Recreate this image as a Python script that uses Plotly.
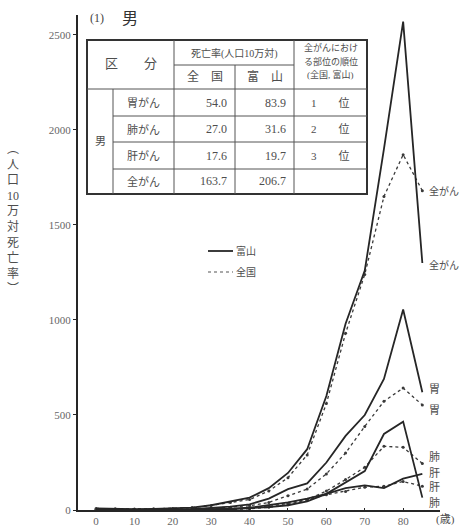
import plotly.graph_objects as go

# ---------------- data ----------------
ages = [0, 5, 10, 15, 20, 25, 30, 35, 40, 45, 50, 55, 60, 65, 70, 75, 80, 85]
total_toyama = [8, 5, 5, 6, 8, 12, 25, 45, 65, 115, 195, 320, 600, 980, 1260, 1900, 2570, 1300]
total_national = [8, 6, 5, 6, 8, 13, 24, 40, 55, 100, 170, 290, 560, 930, 1240, 1650, 1870, 1680]
stomach_toyama = [0, 0, 0, 1, 2, 4, 10, 18, 30, 60, 110, 140, 250, 390, 500, 690, 1055, 620]
stomach_national = [0, 0, 0, 1, 2, 4, 9, 15, 22, 40, 75, 110, 190, 300, 440, 572, 642, 553]
lung_toyama = [0, 0, 0, 0, 1, 1, 2, 4, 8, 15, 25, 45, 85, 145, 205, 400, 465, 65]
lung_national = [0, 0, 0, 0, 1, 1, 2, 3, 6, 14, 28, 55, 100, 160, 225, 335, 330, 245]
liver_toyama = [1, 0, 0, 0, 1, 2, 4, 7, 12, 25, 40, 60, 85, 115, 130, 115, 165, 190]
liver_national = [1, 0, 0, 0, 1, 2, 3, 6, 10, 20, 35, 55, 80, 98, 120, 125, 150, 125]

x_ticks = [0, 10, 20, 30, 40, 50, 60, 70, 80]
y_ticks = [0, 500, 1000, 1500, 2000, 2500]

table_sites = ["胃がん", "肺がん", "肝がん", "全がん"]
table_national = [54.0, 27.0, 17.6, 163.7]
table_toyama = [83.9, 31.6, 19.7, 206.7]
table_rank = ["1　　位", "2　　位", "3　　位", ""]

end_labels_toyama = ["全がん", "胃", "肺", "肝"]
end_labels_national = ["全がん", "胃", "肺", "肝"]

# ---------------- style ----------------
W, H = 459, 526
ML, MR, MT, MB = 78, 19, 15, 16
LINE = "#262626"
TXT = "#4d4d4d"
FONT = "Liberation Serif, DejaVu Serif, Noto Sans CJK JP, serif"


def px(x):
    return (x - ML) / (W - ML - MR)


def py(y):
    return (H - MB - y) / (H - MT - MB)


fig = go.Figure()

toyama_series = [total_toyama, stomach_toyama, lung_toyama, liver_toyama]
national_series = [total_national, stomach_national, lung_national, liver_national]

for s in national_series:
    fig.add_trace(go.Scatter(
        x=ages, y=s, mode="lines+markers",
        line=dict(color="#3a3a3a", width=1.3, dash="dot"),
        marker=dict(size=3, color="#3a3a3a"),
        showlegend=False, hoverinfo="skip"))

for s in toyama_series:
    fig.add_trace(go.Scatter(
        x=ages, y=s, mode="lines",
        line=dict(color=LINE, width=1.8),
        showlegend=False, hoverinfo="skip"))

shapes = []
ann = []

# --------- table ---------
L, R, T, B = 87, 367, 40, 194
c1, c2, c3, c4 = 113, 174, 235, 294
rh1 = 65
rhead = 89
rows = [89, 116, 142, 169, 194]


def hline(x0, x1, y, w=1.0):
    shapes.append(dict(type="line", xref="paper", yref="paper",
                       x0=px(x0), x1=px(x1), y0=py(y), y1=py(y),
                       line=dict(color="#555", width=w)))


def vline(x, y0, y1, w=1.0):
    shapes.append(dict(type="line", xref="paper", yref="paper",
                       x0=px(x), x1=px(x), y0=py(y0), y1=py(y1),
                       line=dict(color="#555", width=w)))


shapes.append(dict(type="rect", xref="paper", yref="paper",
                   x0=px(L), x1=px(R), y0=py(B), y1=py(T),
                   fillcolor="white", line=dict(color="#333", width=2)))
hline(c2, c4, rh1)
hline(L, R, rhead)
for yy in rows[1:-1]:
    hline(c1, R, yy)
vline(c1, rhead, B)
vline(c2, T, B)
vline(c3, rh1, B)
vline(c4, T, B)


def text(x, y, s, size=11, xanchor="center", color=TXT):
    ann.append(dict(x=px(x), y=py(y), xref="paper", yref="paper", text=s,
                    showarrow=False, xanchor=xanchor, yanchor="middle",
                    font=dict(size=size, color=color, family=FONT)))


text((L + c2) / 2, 64, "区　　分", 13)
text((c2 + c4) / 2, 53, "死亡率(人口10万対)", 10)
text((c2 + c3) / 2, 77, "全　国", 12)
text((c3 + c4) / 2, 77, "富　山", 12)
text((c4 + R) / 2, 48, "全がんにおけ", 9)
text((c4 + R) / 2, 61, "る部位の順位", 9)
text((c4 + R) / 2, 74, "(全国, 富山)", 9)
text((L + c1) / 2, 141, "男", 11)
for i in range(4):
    yc = (rows[i] + rows[i + 1]) / 2
    text((c1 + c2) / 2, yc, table_sites[i], 11)
    text(c3 - 6, yc, f"{table_national[i]:.1f}", 12, "right")
    text(c4 - 6, yc, f"{table_toyama[i]:.1f}", 12, "right")
    text((c4 + R) / 2, yc, table_rank[i], 11)

# --------- title ---------
text(88, 18, "(1)", 12, "left", "#444")
text(120, 18, "男", 16, "left", "#333")

# --------- legend ---------
shapes.append(dict(type="line", xref="paper", yref="paper",
                   x0=px(208), x1=px(233), y0=py(251), y1=py(251),
                   line=dict(color=LINE, width=1.8)))
shapes.append(dict(type="line", xref="paper", yref="paper",
                   x0=px(208), x1=px(233), y0=py(272), y1=py(272),
                   line=dict(color="#555", width=1.2, dash="dot")))
text(234, 251, "富山", 10, "left")
text(234, 272, "全国", 10, "left")

# --------- y-axis title (vertical) ---------
ann.append(dict(x=px(13), y=py(219), xref="paper", yref="paper",
                text="︵<br>人<br>口<br>10<br>万<br>対<br>死<br>亡<br>率<br>︶",
                showarrow=False, xanchor="center", yanchor="middle",
                font=dict(size=12, color=TXT, family=FONT)))


# --------- end-of-line labels ---------
def end_label(yval, s, yshift, size=10):
    ann.append(dict(x=85, y=yval, xref="x", yref="y", text=s,
                    showarrow=False, xanchor="left", yanchor="middle",
                    xshift=5, yshift=yshift,
                    font=dict(size=size, color=TXT, family=FONT)))


end_label(total_national[-1], end_labels_national[0], 0)
end_label(total_toyama[-1], end_labels_toyama[0], -2)
end_label(stomach_toyama[-1], end_labels_toyama[1], 3, 11)
end_label(stomach_national[-1], end_labels_national[1], -5, 11)
end_label(lung_national[-1], end_labels_national[2], 6, 11)
end_label(liver_toyama[-1], end_labels_toyama[3], 1, 11)
end_label(liver_national[-1], end_labels_national[3], -1, 11)
end_label(lung_toyama[-1], end_labels_toyama[2], -5, 11)

# x unit
ann.append(dict(x=px(457), y=py(519), xref="paper", yref="paper", text="(歳)",
                showarrow=False, xanchor="right", yanchor="middle",
                font=dict(size=11, color=TXT, family=FONT)))

fig.update_layout(
    width=W, height=H,
    margin=dict(l=ML, r=MR, t=MT, b=MB),
    paper_bgcolor="white", plot_bgcolor="white",
    shapes=shapes, annotations=ann,
    xaxis=dict(range=[-4.7, 89.6], tickvals=x_ticks, showgrid=False, zeroline=False,
               showline=True, linecolor=LINE, linewidth=1.5, ticks="inside", ticklen=2,
               tickcolor=LINE, tickfont=dict(size=11, color="#666", family=FONT),
               fixedrange=True, automargin=False),
    yaxis=dict(range=[0, 2605], tickvals=y_ticks, showgrid=False, zeroline=False,
               showline=True, linecolor=LINE, linewidth=2, ticks="outside", ticklen=3,
               tickcolor=LINE, tickfont=dict(size=11, color="#666", family=FONT),
               fixedrange=True, automargin=False),
    showlegend=False,
)

fig.write_html(
    "out.html",
    config={"displayModeBar": False},
    post_script="document.body.style.margin='0';document.body.style.padding='0';document.body.style.overflow='hidden';",
)
